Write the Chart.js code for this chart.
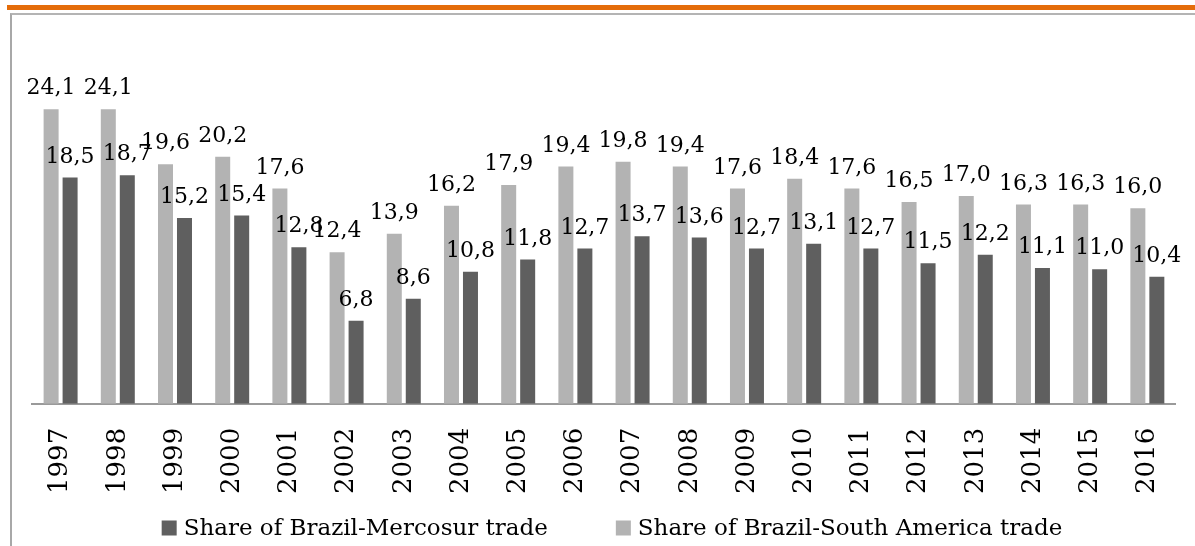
<!DOCTYPE html>
<html>
<head>
<meta charset="utf-8">
<script src="https://cdn.jsdelivr.net/npm/chart.js@4/dist/chart.umd.min.js"></script>
<style>
  html, body { margin: 0; padding: 0; background: #fff; }
  #wrap { position: relative; width: 1195px; height: 546px; overflow: hidden; }
  #rule { position: absolute; left: 7px; top: 5px; right: 0; height: 5px; background: #e46c0a; }
  #frame { position: absolute; left: 10px; top: 13px; right: -10px; bottom: -10px;
           border-left: 2px solid #a8a8a8; border-top: 2px solid #b4b4b4; }
  #box { position: absolute; left: 0; top: 0; width: 1195px; height: 546px; }
</style>
</head>
<body>
<div id="wrap">
  <div id="rule"></div>
  <div id="frame"></div>
  <div id="box"><canvas id="tradeChart"></canvas></div>
</div>
<script>
  const years = ['1997', '1998', '1999', '2000', '2001', '2002', '2003', '2004', '2005', '2006',
                 '2007', '2008', '2009', '2010', '2011', '2012', '2013', '2014', '2015', '2016'];
  const southAmerica = [24.1, 24.1, 19.6, 20.2, 17.6, 12.4, 13.9, 16.2, 17.9, 19.4,
                        19.8, 19.4, 17.6, 18.4, 17.6, 16.5, 17.0, 16.3, 16.3, 16.0];
  const mercosur = [18.5, 18.7, 15.2, 15.4, 12.8, 6.8, 8.6, 10.8, 11.8, 12.7,
                    13.7, 13.6, 12.7, 13.1, 12.7, 11.5, 12.2, 11.1, 11.0, 10.4];
  const legendOrder = ['Share of Brazil-Mercosur trade', 'Share of Brazil-South America trade'];

  const serif = '"DejaVu Serif", serif';

  // value labels on top of each bar, comma decimals
  const valueLabels = {
    id: 'valueLabels',
    afterDatasetsDraw(chart) {
      const ctx = chart.ctx;
      ctx.save();
      ctx.font = '22px ' + serif;
      ctx.fillStyle = '#000';
      ctx.textAlign = 'center';
      ctx.textBaseline = 'alphabetic';
      chart.data.datasets.forEach((ds, i) => {
        chart.getDatasetMeta(i).data.forEach((bar, j) => {
          const txt = ds.data[j].toFixed(1).replace('.', ',');
          ctx.fillText(txt, bar.x, bar.y - 15);
        });
      });
      ctx.restore();
    }
  };

  // legend drawn by hand so the gap between items can be wide
  const wideLegend = {
    id: 'wideLegend',
    afterDraw(chart) {
      const ctx = chart.ctx;
      ctx.save();
      ctx.font = '23px ' + serif;
      ctx.textBaseline = 'middle';
      ctx.textAlign = 'left';
      const box = 15, boxGap = 7, itemGap = 68;
      const items = legendOrder.map(name => {
        const ds = chart.data.datasets.find(d => d.label === name);
        return { name, color: ds.backgroundColor, w: ctx.measureText(name).width };
      });
      let total = 0;
      items.forEach((it, i) => { total += box + boxGap + it.w + (i ? itemGap : 0); });
      let x = (chart.chartArea.left + chart.chartArea.right) / 2 - total / 2 + 8;
      const y = 528;
      items.forEach(it => {
        ctx.fillStyle = it.color;
        ctx.fillRect(x, y - box / 2, box, box);
        ctx.fillStyle = '#000';
        ctx.fillText(it.name, x + box + boxGap, y + 1);
        x += box + boxGap + it.w + itemGap;
      });
      ctx.restore();
    }
  };

  new Chart(document.getElementById('tradeChart'), {
    type: 'bar',
    data: {
      labels: years,
      datasets: [
        {
          label: 'Share of Brazil-South America trade',
          data: southAmerica,
          backgroundColor: '#b3b3b3',
          categoryPercentage: 0.664,
          barPercentage: 0.79
        },
        {
          label: 'Share of Brazil-Mercosur trade',
          data: mercosur,
          backgroundColor: '#5f5f5f',
          categoryPercentage: 0.664,
          barPercentage: 0.79
        }
      ]
    },
    options: {
      responsive: true,
      maintainAspectRatio: false,
      animation: false,
      layout: { padding: { left: 32, right: 18, top: 37, bottom: 36 } },
      plugins: { legend: { display: false }, tooltip: { enabled: false } },
      scales: {
        x: {
          grid: { display: false },
          border: { display: true, color: '#9a9a9a', width: 2 },
          ticks: {
            color: '#000',
            font: { family: serif, size: 26 },
            minRotation: 90,
            maxRotation: 90,
            padding: 16
          }
        },
        y: { display: false, min: 0, max: 30 }
      }
    },
    plugins: [valueLabels, wideLegend]
  });
</script>
</body>
</html>
